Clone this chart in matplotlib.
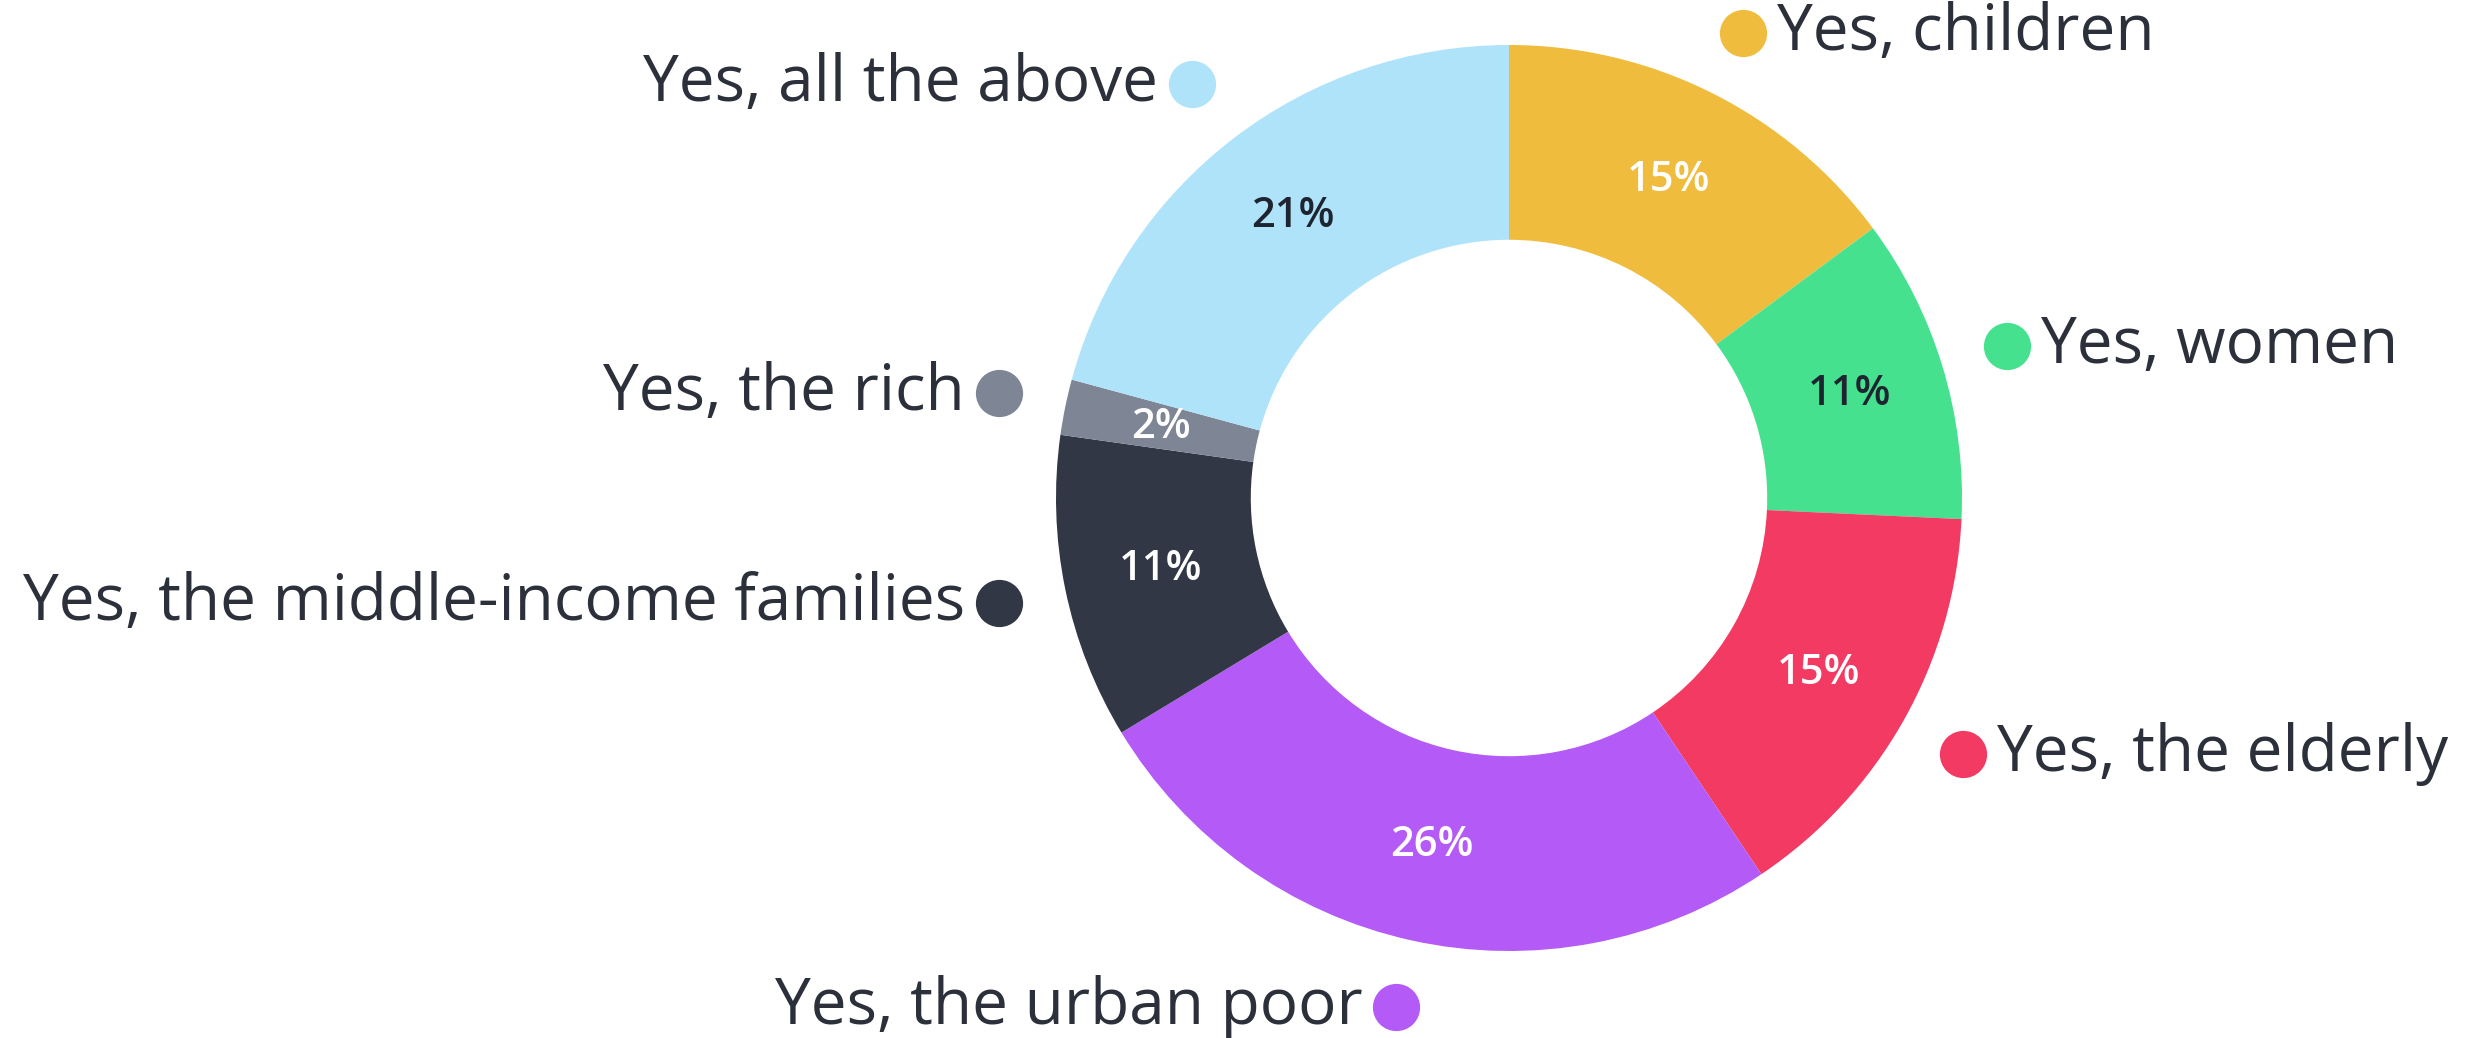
import numpy as np
import matplotlib.pyplot as plt

plt.rcParams['font.family'] = ['Open Sans', 'DejaVu Sans']

# data (clockwise from 12 o'clock)
labels = ['Yes, children', 'Yes, women', 'Yes, the elderly', 'Yes, the urban poor',
          'Yes, the middle-income families', 'Yes, the rich', 'Yes, all the above']
values = [15, 11, 15, 26, 11, 2, 21]
colors = ['#F0BC3E', '#45E18E', '#F23A63', '#B45AF6', '#313744', '#7E8594', '#AEE3FA']
pct_colors = ['white', '#1E2430', 'white', 'white', 'white', 'white', '#1E2430']

text_color = '#2B303A'

fig = plt.figure(figsize=(24.65, 10.38), dpi=100)
ax = fig.add_axes([0, 0, 1, 1])

ring_w = 0.43
wedges, _ = ax.pie(values, colors=colors, startangle=90, counterclock=False,
                   radius=1.0, wedgeprops=dict(width=ring_w, linewidth=0))

mid_r = 1.0 - ring_w / 2
dot_r = 1.15
for w, lab, v, pc, col in zip(wedges, labels, values, pct_colors, colors):
    ang = np.deg2rad((w.theta1 + w.theta2) / 2)
    c, s = np.cos(ang), np.sin(ang)
    # percent inside the ring
    ax.text(mid_r * c, mid_r * s, f'{v}%', color=pc, fontsize=30,
            ha='center', va='center', fontweight='semibold')
    # dot + category label
    dx, dy = dot_r * c, dot_r * s
    ax.plot(dx, dy, 'o', markersize=34, color=col, markeredgewidth=0)
    if c >= 0:
        ax.text(dx + 0.075, dy, lab, ha='left', va='center', fontsize=46,
                color=text_color)
    else:
        ax.text(dx - 0.075, dy, lab, ha='right', va='center', fontsize=46,
                color=text_color)

ax.set_aspect('auto')
ax.set_xlim(-1509 / 453, (2465 - 1509) / 453)
ax.set_ylim(-540 / 453, 498 / 453)
ax.axis('off')

fig.savefig('out.png', dpi=100, facecolor='white')
